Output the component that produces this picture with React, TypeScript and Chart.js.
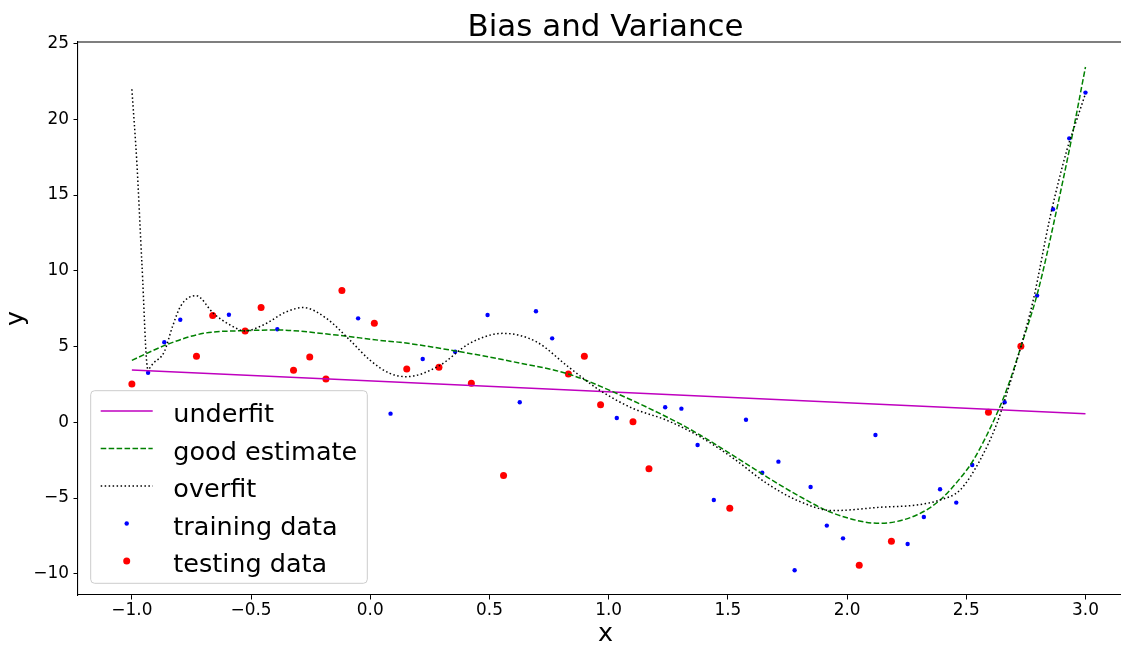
import React, { useEffect, useRef } from "react";
import { Chart, registerables } from "chart.js";

Chart.register(...registerables);

const TITLE = "Bias and Variance";
const X_LABEL = "x";
const Y_LABEL = "y";
const X_TICKS = [-1.0, -0.5, 0.0, 0.5, 1.0, 1.5, 2.0, 2.5, 3.0];
const Y_TICKS = [-10, -5, 0, 5, 10, 15, 20, 25];
const X_MIN = -1.226;
const X_MAX = 3.149;
const X_AXES_END = 3.2; // original axes right end (cropped in picture)
const Y_MIN = -11.4;
const Y_MAX = 25.1;

const trainX = [-0.932, -0.864, -0.797, -0.593, -0.39, -0.051, 0.085, 0.22, 0.356, 0.492, 0.627, 0.695, 0.763, 1.034, 1.237, 1.305, 1.373, 1.441, 1.576, 1.644, 1.712, 1.78, 1.847, 1.915, 1.983, 2.119, 2.254, 2.322, 2.39, 2.458, 2.525, 2.661, 2.797, 2.864, 2.932, 3.0];
const trainY = [3.27, 5.28, 6.77, 7.1, 6.14, 6.86, 0.57, 4.18, 4.66, 7.08, 1.32, 7.33, 5.54, 0.28, 0.99, 0.9, -1.5, -5.13, 0.17, -3.33, -2.6, -9.77, -4.27, -6.82, -7.66, -0.84, -8.03, -6.25, -4.42, -5.3, -2.82, 1.32, 8.36, 14.06, 18.74, 21.76];

const testX = [-1.0, -0.729, -0.661, -0.525, -0.458, -0.322, -0.254, -0.186, -0.119, 0.017, 0.153, 0.288, 0.424, 0.559, 0.831, 0.898, 0.966, 1.102, 1.169, 1.508, 2.051, 2.186, 2.593, 2.729];
const testY = [2.53, 4.36, 7.04, 6.03, 7.57, 3.43, 4.31, 2.86, 8.69, 6.53, 3.52, 3.63, 2.57, -3.52, 3.19, 4.36, 1.16, 0.04, -3.06, -5.68, -9.44, -7.86, 0.66, 5.02];

const underX = [-1.0, 3.0];
const underY = [3.45, 0.57];

const goodX = [-1.0, -0.84, -0.7, -0.526, -0.393, -0.142, 0.04, 0.124, 0.357, 0.598, 0.83, 1.017, 1.296, 1.383, 1.523, 1.663, 1.803, 1.943, 2.138, 2.292, 2.39, 2.474, 2.53, 2.635, 2.684, 2.73, 2.8, 2.876, 2.942, 3.0];
const goodY = [4.09, 5.21, 5.87, 6.05, 6.09, 5.76, 5.41, 5.28, 4.71, 4.0, 3.19, 2.02, -0.07, -0.84, -2.2, -3.6, -4.91, -6.01, -6.67, -6.12, -5.13, -3.7, -2.49, 0.81, 2.79, 5.04, 8.6, 13.8, 18.74, 23.45];

const overX = [-1.0, -0.979, -0.958, -0.933, -0.91, -0.864, -0.83, -0.795, -0.731, -0.658, -0.588, -0.526, -0.449, -0.351, -0.282, -0.184, -0.086, -0.002, 0.082, 0.152, 0.288, 0.417, 0.556, 0.696, 0.83, 0.961, 1.101, 1.241, 1.383, 1.523, 1.663, 1.803, 1.943, 2.138, 2.292, 2.39, 2.474, 2.558, 2.628, 2.67, 2.73, 2.781, 2.852, 2.922, 2.963, 3.0];
const overY = [21.98, 17.1, 10.5, 3.5, 3.9, 4.66, 6.3, 7.68, 8.36, 7.19, 6.42, 6.03, 6.42, 7.3, 7.57, 6.86, 5.43, 4.11, 3.23, 3.01, 3.72, 5.21, 5.87, 5.32, 3.67, 2.13, 0.92, 0.15, -0.95, -2.38, -4.03, -5.24, -5.83, -5.61, -5.46, -5.13, -4.47, -2.49, -0.1, 1.91, 5.04, 8.07, 13.57, 17.97, 19.95, 21.7];

const FONT = '"DejaVu Sans", sans-serif';
const pts = (xs: number[], ys: number[]) => xs.map((x, i) => ({ x, y: ys[i] }));
const fmtX = (v: number) => (v < 0 ? "\u2212" : "") + Math.abs(v).toFixed(1);
const fmtY = (v: number) => (v < 0 ? "\u2212" : "") + Math.abs(v).toFixed(0);

const LEGEND = [
  { label: "underfit", kind: "line", color: "#bf00bf", dash: [] as number[] },
  { label: "good estimate", kind: "line", color: "#008000", dash: [5.55, 2.4] },
  { label: "overfit", kind: "line", color: "#000000", dash: [1.5, 2.475] },
  { label: "training data", kind: "point", color: "#0000ff", r: 2.2 },
  { label: "testing data", kind: "point", color: "#ff0000", r: 3.5 },
];

const decorPlugin = {
  id: "decor",
  afterDraw(chart: any) {
    const ctx = chart.ctx as CanvasRenderingContext2D;
    const { left, right, top, bottom } = chart.chartArea;
    const xs = chart.scales.x;
    const centerX = (left + xs.getPixelForValue(X_AXES_END)) / 2;
    ctx.save();
    // top spine
    ctx.strokeStyle = "#000";
    ctx.lineWidth = 1.1;
    ctx.beginPath();
    ctx.moveTo(left, top);
    ctx.lineTo(right, top);
    ctx.stroke();
    // title
    ctx.fillStyle = "#000";
    ctx.font = `30.9px ${FONT}`;
    ctx.textAlign = "center";
    ctx.textBaseline = "alphabetic";
    ctx.fillText(TITLE, centerX, 36.3);
    // axis labels
    ctx.font = `25.4px ${FONT}`;
    ctx.fillText(X_LABEL, centerX, 641);
    ctx.save();
    ctx.translate(23, (top + bottom) / 2);
    ctx.rotate(-Math.PI / 2);
    ctx.fillText(Y_LABEL, 0, 0);
    ctx.restore();
    // legend
    const bx = left + 12.7;
    const by = bottom - 204.3;
    const bw = 276.6;
    const bh = 192.6;
    ctx.fillStyle = "rgba(255,255,255,0.8)";
    ctx.strokeStyle = "#cccccc";
    ctx.lineWidth = 1;
    ctx.beginPath();
    (ctx as any).roundRect(bx, by, bw, bh, 4);
    ctx.fill();
    ctx.stroke();
    LEGEND.forEach((item: any, i) => {
      const ry = by + 20.3 + i * 37.5;
      if (item.kind === "line") {
        ctx.strokeStyle = item.color;
        ctx.lineWidth = 1.5;
        ctx.setLineDash(item.dash);
        ctx.beginPath();
        ctx.moveTo(bx + 10, ry);
        ctx.lineTo(bx + 62, ry);
        ctx.stroke();
        ctx.setLineDash([]);
      } else {
        ctx.fillStyle = item.color;
        ctx.beginPath();
        ctx.arc(bx + 36, ry, item.r, 0, Math.PI * 2);
        ctx.fill();
      }
      ctx.fillStyle = "#000";
      ctx.font = `25.5px ${FONT}`;
      ctx.textAlign = "left";
      ctx.textBaseline = "alphabetic";
      ctx.fillText(item.label, bx + 82.6, ry + 11);
    });
    ctx.restore();
  },
};

export default function App() {
  const ref = useRef<HTMLCanvasElement>(null);
  useEffect(() => {
    const canvas = ref.current!;
    const lineDs = (label: string, xs: number[], ys: number[], color: string, dash: number[], order: number) => ({
      label,
      data: pts(xs, ys),
      showLine: true,
      borderColor: color,
      backgroundColor: color,
      borderWidth: 1.5,
      borderDash: dash,
      borderCapStyle: "butt",
      pointRadius: 0,
      pointHoverRadius: 0,
      cubicInterpolationMode: "monotone",
      order,
    });
    const chart = new Chart(canvas, {
      type: "scatter",
      data: {
        datasets: [
          lineDs("underfit", underX, underY, "#bf00bf", [], 2),
          lineDs("good estimate", goodX, goodY, "#008000", [5.55, 2.4], 1),
          lineDs("overfit", overX, overY, "#000000", [1.5, 2.475], 0),
          {
            label: "training data",
            data: pts(trainX, trainY),
            pointRadius: 2.2,
            pointBorderWidth: 0,
            backgroundColor: "#0000ff",
            borderColor: "#0000ff",
            order: 4,
          },
          {
            label: "testing data",
            data: pts(testX, testY),
            pointRadius: 3.5,
            pointBorderWidth: 0,
            backgroundColor: "#ff0000",
            borderColor: "#ff0000",
            order: 3,
          },
        ] as any,
      },
      options: {
        responsive: false,
        animation: false,
        devicePixelRatio: 1,
        layout: { autoPadding: false, padding: { top: 42, right: 0, left: 0, bottom: 0 } },
        plugins: { legend: { display: false }, title: { display: false }, tooltip: { enabled: false } },
        scales: {
          x: {
            type: "linear",
            min: X_MIN,
            max: X_MAX,
            afterBuildTicks: (s: any) => {
              s.ticks = X_TICKS.map((v) => ({ value: v }));
            },
            afterFit: (s: any) => {
              s.height = 52;
            },
            ticks: {
              color: "#000",
              font: { family: FONT, size: 16.9 },
              padding: 1,
              maxRotation: 0,
              autoSkip: false,
              callback: (v: any) => fmtX(Number(v)),
            },
            grid: {
              drawOnChartArea: false,
              drawTicks: true,
              tickLength: 4.5,
              tickColor: "#000",
              tickWidth: 1,
            },
            border: { display: true, color: "#000", width: 1.1 },
          },
          y: {
            type: "linear",
            min: Y_MIN,
            max: Y_MAX,
            afterBuildTicks: (s: any) => {
              s.ticks = Y_TICKS.map((v) => ({ value: v }));
            },
            afterFit: (s: any) => {
              s.width = 78;
            },
            ticks: {
              color: "#000",
              font: { family: FONT, size: 16.9 },
              padding: 4.5,
              autoSkip: false,
              callback: (v: any) => fmtY(Number(v)),
            },
            grid: {
              drawOnChartArea: false,
              drawTicks: true,
              tickLength: 4.5,
              tickColor: "#000",
              tickWidth: 1,
            },
            border: { display: true, color: "#000", width: 1.1 },
          },
        },
      } as any,
      plugins: [decorPlugin],
    });
    return () => chart.destroy();
  }, []);
  return (
    <div style={{ position: "absolute", left: 0, top: 0, width: 1121, height: 647, background: "#fff", overflow: "hidden" }}>
      <canvas ref={ref} width={1121} height={647} style={{ display: "block" }} />
    </div>
  );
}
